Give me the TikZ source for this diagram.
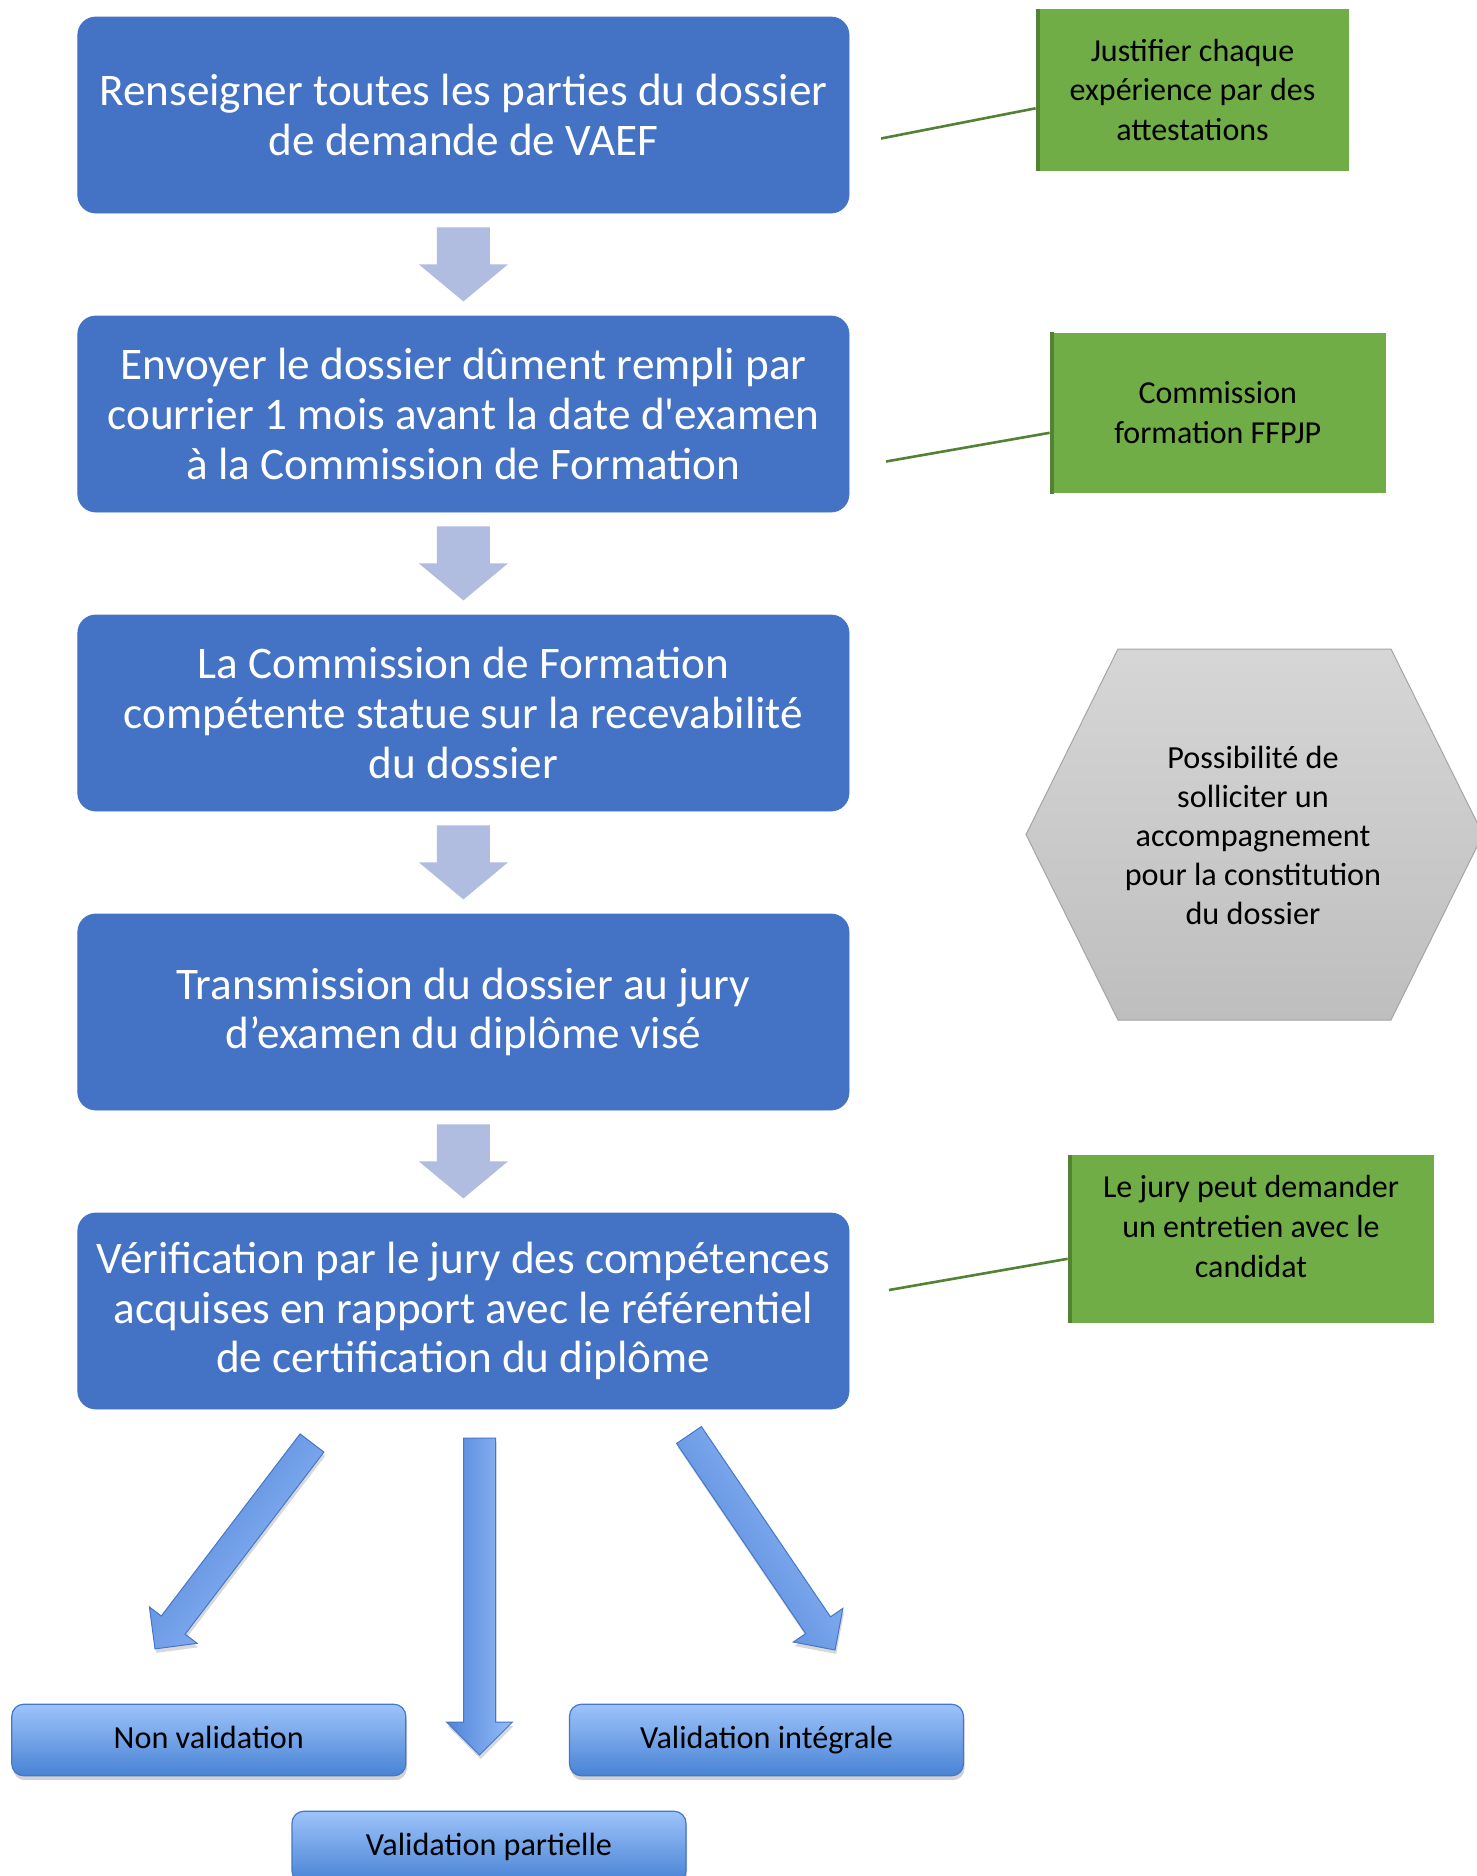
\documentclass[tikz,border=0pt]{standalone}
\usepackage{fontspec}
\setmainfont{Carlito}[Ligatures=TeXOff]
\usetikzlibrary{shadows,calc}
\definecolor{mainblue}{RGB}{68,114,196}
\definecolor{stepgray}{RGB}{176,188,224}
\definecolor{callgreen}{RGB}{112,173,71}
\definecolor{bargreen}{RGB}{84,130,53}
\definecolor{hextop}{RGB}{214,214,214}
\definecolor{hexbot}{RGB}{190,190,190}
\definecolor{hexline}{RGB}{165,165,165}
\definecolor{outtop}{RGB}{157,195,250}
\definecolor{outbot}{RGB}{72,131,212}
\definecolor{outline}{RGB}{70,118,200}
\definecolor{arrdark}{RGB}{78,132,216}
\definecolor{arrlight}{RGB}{150,188,248}
\begin{document}
\begin{tikzpicture}[x=0.5pt,y=-0.5pt,
  mainbox/.style={fill=mainblue, draw=mainblue, rounded corners=9pt,
    minimum width=385.6pt, minimum height=98pt, inner sep=0pt,
    text=white, align=center, font=\fontsize{22.6}{24.8}\selectfont},
  callbox/.style={fill=callgreen, draw=none, inner sep=0pt, align=center,
    text=black, font=\fontsize{16}{19.8}\selectfont},
  calltext/.style={inner sep=0pt, align=center, text=black,
    font=\fontsize{16}{19.8}\selectfont},
  accent/.style={draw=bargreen, line width=2pt},
  callline/.style={draw=bargreen, line width=1.3pt},
  stepdown/.style={fill=stepgray, draw=none},
  outbox/.style={rounded corners=6pt, top color=outtop, bottom color=outbot,
    draw=outline, line width=0.6pt, minimum width=197pt, minimum height=35.8pt,
    inner sep=0pt, text height=11.5pt, text depth=3.5pt,
    text=black, font=\fontsize{16.1}{18}\selectfont,
    drop shadow={opacity=0.35, shadow xshift=0.6pt, shadow yshift=-2.2pt}},
  bigarrow/.style={draw=outline, line width=0.5pt, shading=axis,
    top color=arrdark, bottom color=arrlight,
    drop shadow={opacity=0.3, shadow xshift=0.6pt, shadow yshift=-2pt}},
  hexstyle/.style={draw=hexline, line width=0.5pt, top color=hextop, bottom color=hexbot}
]
\useasboundingbox[fill=white] (0,0) rectangle (1477,1876);

% main steps
\node[mainbox] (b1) at (463.4,115) {Renseigner toutes les parties du dossier\\de demande de VAEF};
\node[mainbox] (b2) at (463.4,414) {Envoyer le dossier dûment rempli par\\courrier 1 mois avant la date d'examen\\à la Commission de Formation};
\node[mainbox] (b3) at (463.4,713) {La Commission de Formation\\compétente statue sur la recevabilité\\du dossier};
\node[mainbox] (b4) at (463.4,1012) {Transmission du dossier au jury\\d’examen du diplôme visé};
\node[mainbox] (b5) at (463.4,1311) {Vérification par le jury des compétences\\acquises en rapport avec le référentiel\\de certification du diplôme};

% step arrows
\foreach \a in {b1,b2,b3,b4}{
  \path[stepdown] ($(\a.south)+(-26.5,14)$) -- ($(\a.south)+(26.5,14)$)
    -- ($(\a.south)+(26.5,51)$) -- ($(\a.south)+(44.5,51)$)
    -- ($(\a.south)+(0,88)$) -- ($(\a.south)+(-44.5,51)$)
    -- ($(\a.south)+(-26.5,51)$) -- cycle;
}

% green callouts
\node[callbox, minimum width=156.5pt, minimum height=80.8pt] (g1) at (1192.5,89.8)
  {Justifier chaque\\expérience par des\\attestations};
\draw[accent] ($(g1.north west)+(2,0)$) -- ($(g1.south west)+(2,0)$);
\coordinate (c1) at (881,138.5);
\draw[callline] (c1) -- ($(g1.west)+(0,18.5)$);

\node[callbox, minimum width=167.8pt, minimum height=80.3pt] (g2) at (1217.8,412.8)
  {Commission\\formation FFPJP};
\draw[accent] ($(g2.north west)+(2,0)$) -- ($(g2.south west)+(2,0)$);
\coordinate (c2) at (886,461.5);
\draw[callline] (c2) -- ($(g2.west)+(0,20)$);

\node[callbox, minimum width=183pt, minimum height=83.8pt] (g3) at (1251,1238.8) {};
\node[calltext] (g3t) at (1251,1226.5) {Le jury peut demander\\un entretien avec le\\candidat};
\draw[accent] ($(g3.north west)+(2,0)$) -- ($(g3.south west)+(2,0)$);
\coordinate (c3) at (889,1290);
\draw[callline] (c3) -- ($(g3.west)+(0,20)$);

% hexagon
\path[hexstyle] (1118,649) -- (1391,649) -- (1483,834.5) -- (1391,1020)
  -- (1118,1020) -- (1026,834.5) -- cycle;
\node[calltext, font=\fontsize{16.1}{19.6}\selectfont] (hx) at (1253,835.5)
  {Possibilité de\\solliciter un\\accompagnement\\pour la constitution\\du dossier};

% outcome boxes
\node[outbox] (o1) at (208.8,1740) {Non validation};
\node[outbox] (o3) at (766.5,1740) {Validation intégrale};
\node[outbox] (o2) at (489,1847) {Validation partielle};

% big arrows
\path[bigarrow, shading angle=52.7]
  (300.1,1433.9) -- (161.3,1616) -- (149.4,1606.9) -- (155,1648.9)
  -- (197.1,1643.3) -- (185.1,1634.2) -- (323.9,1452.1) -- cycle;
\path[bigarrow, shading angle=90]
  (463.6,1438) -- (463.6,1722) -- (446.5,1722) -- (479.5,1755)
  -- (512.5,1722) -- (495.5,1722) -- (495.5,1438) -- cycle;
\path[bigarrow, shading angle=124.2]
  (701.4,1426.6) -- (830.5,1616.8) -- (842.9,1608.4) -- (835,1650)
  -- (793.3,1642) -- (805.7,1633.6) -- (676.6,1443.4) -- cycle;
\end{tikzpicture}
\end{document}
